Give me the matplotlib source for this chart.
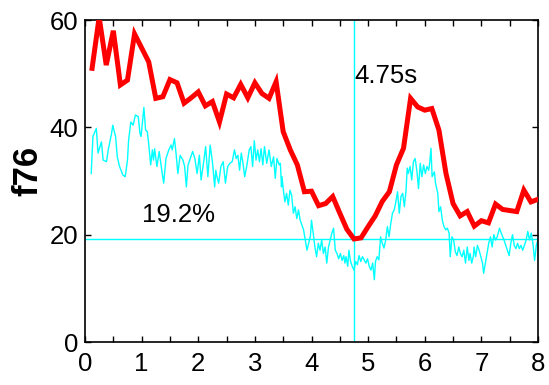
import matplotlib
matplotlib.use("Agg")
import matplotlib.pyplot as plt
from matplotlib.ticker import MultipleLocator

plt.rcParams['font.family'] = ['Liberation Sans', 'DejaVu Sans']

# Red (smoothed) series, sampled every 1/8 s
red_t = [0.125 * k for k in range(1, 65)]
red_v = [51.0, 60.5, 51.6, 58.0, 47.9, 48.8, 57.4, 54.8, 52.2, 45.4, 45.7, 48.9,
         48.3, 44.5, 45.5, 46.6, 44.0, 44.8, 41.0, 46.2, 45.5, 48.0, 45.5, 48.3,
         46.3, 45.4, 48.5, 39.2, 35.8, 33.0, 28.0, 28.1, 25.4, 25.8, 27.1, 24.0,
         21.0, 19.2, 19.4, 21.5, 23.5, 26.2, 28.0, 33.0, 36.1, 45.4, 43.8, 43.2,
         43.5, 39.5, 31.4, 25.8, 23.5, 24.3, 21.6, 22.6, 22.2, 25.7, 24.7, 24.5,
         24.3, 28.3, 26.1, 26.6]

# Cyan (raw) series
cyan_t = [0.11, 0.14, 0.20, 0.23, 0.29, 0.32, 0.38, 0.41, 0.47, 0.49, 0.54, 0.57,
          0.61, 0.67, 0.71, 0.75, 0.77, 0.81, 0.85, 0.89, 0.94, 0.97, 0.99, 1.04,
          1.07, 1.10, 1.13, 1.16, 1.19, 1.21, 1.23, 1.27, 1.31, 1.36, 1.39, 1.43,
          1.48, 1.52, 1.54, 1.58, 1.61, 1.64, 1.68, 1.73, 1.76, 1.79, 1.82, 1.86,
          1.90, 1.94, 1.98, 2.02, 2.05, 2.10, 2.13, 2.17, 2.21, 2.25, 2.29, 2.31,
          2.33, 2.36, 2.40, 2.44, 2.48, 2.52, 2.56, 2.60, 2.64, 2.67, 2.70, 2.73,
          2.76, 2.79, 2.82, 2.86, 2.90, 2.93, 2.96, 2.99, 3.02, 3.05, 3.08, 3.11,
          3.14, 3.17, 3.21, 3.25, 3.29, 3.33, 3.36, 3.39, 3.43, 3.45, 3.47, 3.48,
          3.50, 3.53, 3.56, 3.59, 3.62, 3.65, 3.68, 3.71, 3.74, 3.77, 3.80, 3.83,
          3.86, 3.89, 3.92, 3.95, 3.98, 4.00, 4.03, 4.06, 4.09, 4.12, 4.15, 4.18,
          4.21, 4.24, 4.27, 4.30, 4.33, 4.36, 4.39, 4.42, 4.45, 4.48, 4.51, 4.54,
          4.57, 4.59, 4.61, 4.64, 4.66, 4.69, 4.72, 4.75, 4.78, 4.81, 4.84, 4.87,
          4.90, 4.93, 4.96, 4.99, 5.02, 5.05, 5.08, 5.11, 5.13, 5.16, 5.19, 5.22,
          5.25, 5.28, 5.31, 5.34, 5.37, 5.40, 5.43, 5.46, 5.49, 5.52, 5.55, 5.58,
          5.61, 5.64, 5.67, 5.69, 5.71, 5.74, 5.77, 5.80, 5.83, 5.86, 5.89, 5.92,
          5.95, 5.98, 6.01, 6.04, 6.07, 6.09, 6.11, 6.13, 6.17, 6.19, 6.23, 6.25,
          6.28, 6.31, 6.34, 6.37, 6.40, 6.43, 6.45, 6.48, 6.51, 6.54, 6.57, 6.60,
          6.63, 6.66, 6.69, 6.72, 6.75, 6.78, 6.80, 6.83, 6.86, 6.87, 6.90, 6.93,
          6.96, 6.99, 7.02, 7.04, 7.07, 7.10, 7.13, 7.16, 7.19, 7.22, 7.25, 7.28,
          7.32, 7.35, 7.40, 7.43, 7.46, 7.49, 7.52, 7.55, 7.58, 7.61, 7.64, 7.67,
          7.70, 7.73, 7.76, 7.79, 7.82, 7.85, 7.88, 7.91, 7.94, 7.97, 8.00]
cyan_v = [31.4, 38.3, 39.8, 35.2, 37.3, 33.9, 33.6, 35.8, 38.9, 40.4, 38.3, 34.5,
          32.7, 31.1, 30.8, 33.9, 37.6, 41.0, 40.4, 42.3, 42.0, 38.9, 38.3, 43.7,
          39.5, 39.2, 36.4, 33.0, 35.8, 33.9, 36.0, 32.7, 35.5, 31.7, 29.6, 34.2,
          35.8, 36.7, 35.8, 37.9, 34.9, 31.4, 34.8, 33.9, 32.7, 28.9, 33.0, 34.2,
          35.5, 34.2, 31.4, 34.8, 30.2, 33.9, 36.4, 30.8, 36.7, 33.6, 28.9, 32.0,
          30.8, 29.6, 32.7, 33.6, 29.6, 32.7, 33.3, 33.6, 35.8, 34.2, 34.8, 32.0,
          35.2, 33.3, 30.8, 33.0, 35.8, 36.4, 32.7, 37.5, 33.9, 35.8, 33.6, 36.0,
          33.0, 36.4, 33.3, 35.8, 32.7, 34.5, 30.5, 34.2, 33.0, 33.3, 28.9, 30.8,
          28.6, 26.1, 27.7, 25.5, 28.3, 27.3, 24.0, 25.2, 23.0, 24.6, 22.7, 21.8,
          20.9, 19.0, 17.1, 18.4, 19.7, 22.7, 20.3, 17.7, 15.9, 18.4, 17.1, 19.0,
          16.5, 17.7, 14.7, 17.7, 19.0, 20.3, 21.2, 17.1, 16.5, 15.5, 16.5, 15.2,
          16.1, 14.7, 15.9, 14.1, 17.1, 15.0, 14.1, 13.4, 15.0, 14.4, 16.1, 15.0,
          15.9, 15.3, 14.7, 15.5, 14.1, 13.4, 14.7, 11.6, 15.0, 15.9, 15.3, 19.6,
          18.4, 17.5, 19.0, 21.5, 19.6, 22.1, 24.0, 24.6, 26.1, 28.0, 24.0, 27.1,
          27.7, 25.2, 28.3, 32.4, 31.4, 32.7, 30.2, 33.6, 34.2, 32.0, 28.6, 33.3,
          30.8, 33.0, 31.4, 32.7, 32.0, 33.6, 36.1, 30.8, 31.7, 29.6, 27.7, 24.3,
          25.2, 22.7, 21.5, 20.9, 21.2, 20.3, 15.9, 19.6, 19.0, 16.8, 16.1, 17.7,
          16.5, 15.9, 17.1, 14.7, 17.7, 15.2, 16.5, 14.7, 16.1, 17.7, 15.9, 18.0,
          17.1, 15.9, 14.7, 12.8, 14.7, 16.5, 18.4, 19.6, 17.7, 20.0, 19.0, 19.6,
          21.2, 20.3, 19.0, 18.0, 17.1, 16.1, 18.4, 20.0, 18.0, 17.4, 18.4, 17.4,
          18.0, 17.1, 18.0, 19.0, 20.6, 19.0, 20.3, 18.4, 15.2, 18.0, 19.0]

cross_t = 4.75
cross_v = 19.2
time_label = "4.75s"
value_label = "19.2%"
ylabel = "f76"

fig = plt.figure(figsize=(5.49, 3.85), dpi=100)
ax = fig.add_axes([85 / 549, 43 / 385, 453 / 549, 322 / 385])

ax.plot(cyan_t, cyan_v, color='#00FFFF', lw=1.0, zorder=2)
ax.plot(red_t, red_v, color='#FF0000', lw=3.6, solid_joinstyle='miter', zorder=3)
ax.axvline(cross_t, color='#00FFFF', lw=1.0, zorder=1)
ax.axhline(cross_v, color='#00FFFF', lw=1.0, zorder=1)

ax.text(cross_t, 48.3, time_label, fontsize=18.5, ha='left', va='baseline')
ax.text(1.0, 22.3, value_label, fontsize=18.5, ha='left', va='baseline')

ax.set_xlim(0, 8)
ax.set_ylim(0, 60)
ax.xaxis.set_major_locator(MultipleLocator(1))
ax.xaxis.set_minor_locator(MultipleLocator(0.5))
ax.set_yticks([0, 20, 40, 60])
ax.tick_params(which='both', direction='in', top=True, right=True,
               length=4, width=1, labelsize=18.5)
ax.tick_params(axis='x', pad=7)
ax.tick_params(axis='y', pad=5)
for s in ax.spines.values():
    s.set_linewidth(1.2)

ax.set_ylabel(ylabel, fontsize=25, fontweight='bold')
ax.yaxis.set_label_coords(-0.09, 0.53)

fig.savefig("out.png", dpi=100)
